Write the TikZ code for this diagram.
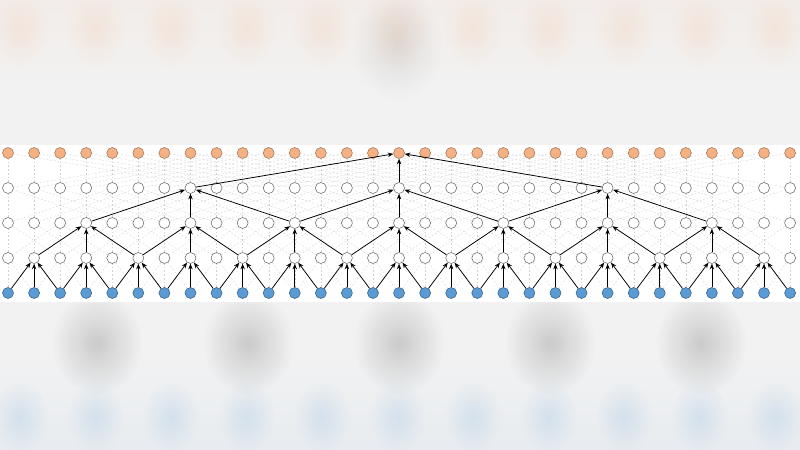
\documentclass[tikz,border=0pt]{standalone}
\usetikzlibrary{arrows.meta,backgrounds,fadings}
\definecolor{inblue}{HTML}{5B9BD5}
\definecolor{outorange}{HTML}{F4B183}
\definecolor{haze}{HTML}{F2F2F2}
\tikzfading[name=blobfade,inner color=transparent!0,outer color=transparent!100]

\begin{document}
\begin{tikzpicture}[x=0.03cm,y=0.03cm,
    unit/.style={circle,draw,minimum size=0.33cm,inner sep=0,line width=0.45pt},
    hidden/.style={unit,draw=black!60,fill=white},
    inunit/.style={unit,draw=inblue!60!black,fill=inblue},
    outunit/.style={unit,draw=outorange!65!black,fill=outorange},
    mesh/.style={draw=black!18,line width=0.3pt,dash pattern=on 1.6pt off 1.6pt},
    flow/.style={-{Stealth[length=4.8pt,width=3.8pt]},line width=0.65pt},
    blob/.style={path fading=blobfade,fill opacity=#1},
    blob/.default=0.15]
    \pgfmathsetmacro{\colstep}{26.07}
    \pgfmathsetmacro{\rowstep}{35}
    \pgfmathsetmacro{\bottomrow}{157}
    \useasboundingbox (0,0) rectangle (800,450);
    % units, five rows of 31
    \foreach \r in {0,...,4}{
        \foreach \i in {0,...,30}{
            \ifnum\r=0 \def\kind{inunit}\else\ifnum\r=4 \def\kind{outunit}\else\def\kind{hidden}\fi\fi
            \node[\kind] (n-\r-\i) at (8+\i*\colstep,\bottomrow+\r*\rowstep) {};
        }
    }
    \begin{scope}[on background layer]
        % blurred surroundings
        \fill[haze] (0,0) rectangle (800,450);
        \shade[top color=outorange!8!haze,bottom color=haze] (0,450) rectangle (800,360);
        \shade[top color=haze,bottom color=inblue!7!haze] (0,100) rectangle (800,0);
        \foreach \k in {0,...,10}{
            \fill[outorange,blob=0.16] (20+\k*75.5,420) ellipse (30 and 38);
            \fill[inblue,blob=0.16] (20+\k*75.5,33) ellipse (28 and 36);
        }
        \foreach \k in {0,...,4}{
            \fill[black,blob=0.16] (97+\k*151,107) ellipse (46 and 52);
        }
        \fill[black,blob=0.08] (397,405) ellipse (46 and 56);
        \fill[white] (0,148) rectangle (800,305);
        % all possible taps, dashed
        \foreach \r/\d in {1/1,2/2,3/4,4/8}{
            \pgfmathtruncatemacro{\lo}{\r-1}
            \foreach \i in {0,...,30}{
                \foreach \s in {-1,0,1}{
                    \pgfmathtruncatemacro{\j}{\i+\s*\d}
                    \ifnum\j>-1 \ifnum\j<31
                        \draw[mesh] (n-\lo-\j) -- (n-\r-\i);
                    \fi\fi
                }
            }
        }
    \end{scope}
    % used taps
    \foreach \r/\d in {1/1,2/2,3/4,4/8}{
        \pgfmathtruncatemacro{\lo}{\r-1}
        \pgfmathtruncatemacro{\nunits}{16/\d-1}
        \foreach \k in {1,...,\nunits}{
            \pgfmathtruncatemacro{\i}{2*\d*\k-1}
            \pgfmathtruncatemacro{\lefttap}{\i-\d}
            \pgfmathtruncatemacro{\righttap}{\i+\d}
            \draw[flow] (n-\lo-\lefttap) -- (n-\r-\i);
            \draw[flow] (n-\lo-\i) -- (n-\r-\i);
            \draw[flow] (n-\lo-\righttap) -- (n-\r-\i);
        }
    }
\end{tikzpicture}
\end{document}
